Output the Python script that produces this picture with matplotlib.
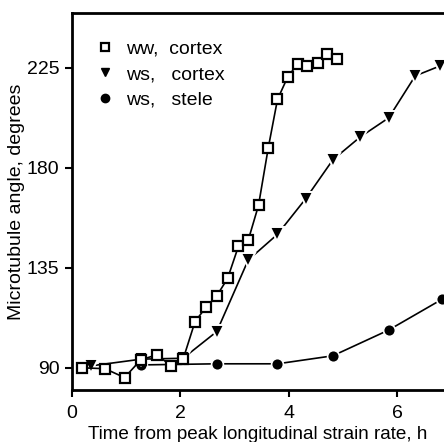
import numpy as np
from matplotlib import pyplot as plt

plt.rcParams['font.family'] = ['Liberation Sans', 'DejaVu Sans']

# ww, cortex
ww_x = [0.18, 0.61, 0.97, 1.27, 1.56, 1.83, 2.05, 2.27, 2.47, 2.67, 2.87, 3.07, 3.25,
        3.44, 3.62, 3.79, 3.98, 4.16, 4.34, 4.53, 4.70, 4.88]
ww_y = [90.0, 89.6, 85.6, 93.6, 95.8, 91.0, 93.9, 110.8, 117.2, 122.4, 130.2, 144.7, 147.4,
        163.1, 189.0, 210.8, 221.0, 226.7, 225.9, 227.4, 231.2, 229.2]

# ws, cortex
wsc_x = [0.36, 1.28, 2.05, 2.67, 3.25, 3.79, 4.31, 4.81, 5.31, 5.84, 6.33, 6.79]
wsc_y = [90.9, 93.9, 94.3, 106.3, 138.5, 150.1, 166.1, 183.6, 193.8, 202.5, 221.4, 225.9]

# ws, stele
wss_x = [1.28, 2.67, 3.79, 4.81, 5.84, 6.82]
wss_y = [91.3, 91.8, 91.8, 95.4, 107.0, 120.8]

xticks = [0, 2, 4, 6]
yticks = [90, 135, 180, 225]

fig = plt.figure(figsize=(4.44, 4.42), dpi=100)
ax = fig.add_axes([0.162, 0.1176, 0.838, 0.853])

ax.plot(wss_x, wss_y, '-', c='k', lw=1.2, zorder=2)
ax.plot(wss_x, wss_y, 'o', mfc='k', mec='white', ms=8.5, mew=1.2, zorder=2.5)
ax.plot(wsc_x, wsc_y, '-', c='k', lw=1.2, zorder=3)
ax.plot(wsc_x, wsc_y, 'v', mfc='k', mec='white', ms=10, mew=1.4, zorder=3.5)
ax.plot(ww_x, ww_y, '-', c='k', lw=1.2, zorder=4)
ax.plot(ww_x, ww_y, 's', mfc='white', mec='k', ms=7.5, mew=1.6, zorder=4.5)

# legend entries (markers only)
ax.plot([], [], 's', mfc='white', mec='k', ms=6, mew=1.6, label='ww,  cortex')
ax.plot([], [], 'v', mfc='k', mec='k', ms=6, label='ws,   cortex')
ax.plot([], [], 'o', mfc='k', mec='k', ms=6, label='ws,   stele')

ax.set_xlim(0, 6.86)
ax.set_ylim(80, 249.7)
ax.set_xticks(xticks)
ax.set_yticks(yticks)
ax.tick_params(direction='out', length=5, width=1.5, labelsize=14, pad=4)
ax.tick_params(axis='x', pad=6)
for s in ['left', 'bottom', 'top']:
    ax.spines[s].set_linewidth(2)
ax.spines['right'].set_visible(False)

ax.set_xlabel('Time from peak longitudinal strain rate, h', fontsize=13.6, labelpad=2.5)
ax.set_ylabel('Microtubule angle, degrees', fontsize=14, labelpad=1)

ax.legend(loc='upper left', frameon=False, fontsize=14,
          handlelength=0.6, handletextpad=0.8, borderaxespad=0.8, labelspacing=0.4,
          borderpad=0.6)

fig.savefig('out.png', dpi=100)
